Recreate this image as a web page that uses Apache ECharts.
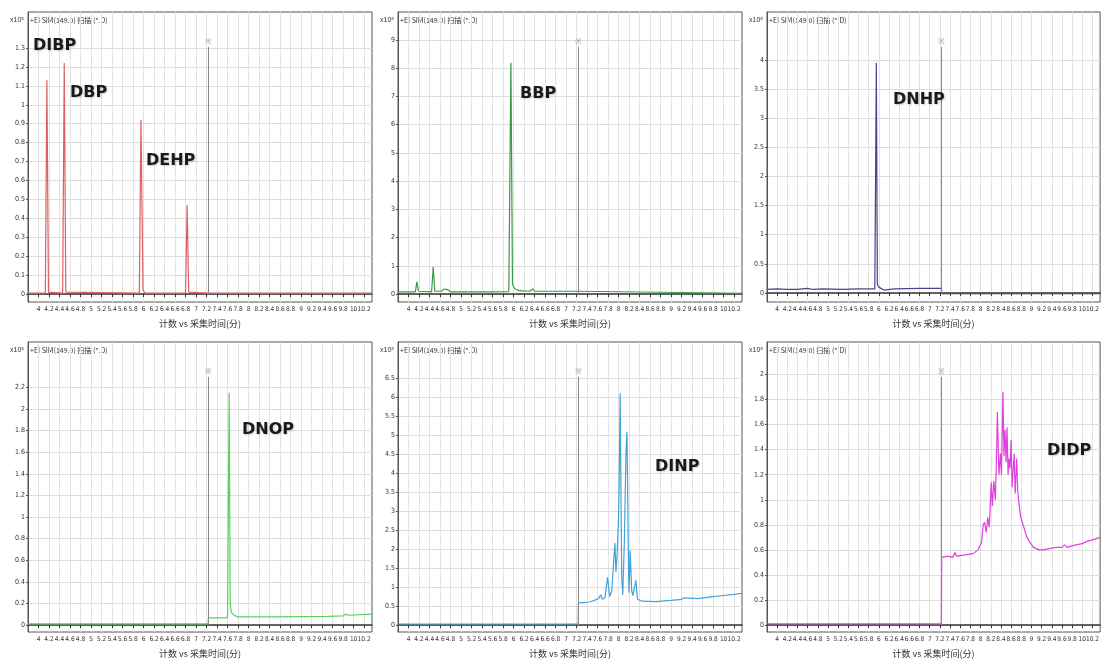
<!DOCTYPE html>
<html><head><meta charset="utf-8">
<script src="https://cdn.jsdelivr.net/npm/echarts@6/dist/echarts.min.js"></script>
<style>html,body{margin:0;padding:0;background:#fff}#c{width:1102px;height:664px}</style>
</head><body><div id="c"></div>
<script>
// ---- data ----
const compoundNames = ['DIBP / DBP / DEHP', 'BBP', 'DNHP', 'DNOP', 'DINP', 'DIDP'];
const headerText = '+EI SIM(149.0) 扫描 (*.D)';
const scaleText = 'x10⁵';
const xTitle = '计数 vs 采集时间(分)';
const segmentTime = 7.23;
const timeTicks = [4,4.2,4.4,4.6,4.8,5,5.2,5.4,5.6,5.8,6,6.2,6.4,6.6,6.8,7,7.2,7.4,7.6,7.8,8,8.2,8.4,8.6,8.8,9,9.2,9.4,9.6,9.8,10,10.2];

const yTicks1 = [0,0.1,0.2,0.3,0.4,0.5,0.6,0.7,0.8,0.9,1,1.1,1.2,1.3];
const yTicks2 = [0,1,2,3,4,5,6,7,8,9];
const yTicks3 = [0,0.5,1,1.5,2,2.5,3,3.5,4];
const yTicks4 = [0,0.2,0.4,0.6,0.8,1,1.2,1.4,1.6,1.8,2,2.2];
const yTicks5 = [0,0.5,1,1.5,2,2.5,3,3.5,4,4.5,5,5.5,6,6.5];
const yTicks6 = [0,0.2,0.4,0.6,0.8,1,1.2,1.4,1.6,1.8,2];

const trace1 = [[3.8,0.005],[4.13,0.005],[4.16,1.13],[4.19,0.01],[4.46,0.005],[4.49,1.22],[4.52,0.01],[5.92,0.005],[5.95,0.92],[5.99,0.02],[6.03,0.005],[6.80,0.005],[6.83,0.47],[6.86,0.01],[7.23,0.005],[10.35,0.005]];
const trace2 = [[3.8,0.08],[4.13,0.08],[4.16,0.43],[4.19,0.1],[4.44,0.08],[4.47,0.96],[4.50,0.1],[4.62,0.1],[4.68,0.18],[4.71,0.12],[4.74,0.16],[4.8,0.08],[5.5,0.08],[5.91,0.09],[5.95,8.19],[5.98,0.35],[6.02,0.2],[6.1,0.12],[6.3,0.1],[6.37,0.18],[6.40,0.1],[7.23,0.1],[7.235,0.03],[10.35,0.03]];
const trace3 = [[3.8,0.06],[4.0,0.07],[4.2,0.06],[4.4,0.06],[4.6,0.08],[4.7,0.06],[4.9,0.07],[5.3,0.06],[5.6,0.07],[5.92,0.07],[5.95,3.95],[5.97,0.15],[6.0,0.1],[6.1,0.05],[6.3,0.07],[6.8,0.08],[7.23,0.08],[7.235,-0.01],[10.35,-0.01]];
const trace4 = [[3.8,0.01],[7.23,0.01],[7.235,0.065],[7.55,0.065],[7.60,0.07],[7.63,2.15],[7.65,0.2],[7.67,0.12],[7.72,0.09],[7.8,0.075],[8.5,0.075],[9.0,0.078],[9.5,0.08],[9.8,0.085],[9.85,0.1],[9.9,0.09],[10.35,0.1]];
const trace5 = [[3.8,0.03],[7.23,0.03],[7.235,0.58],[7.35,0.6],[7.45,0.61],[7.55,0.66],[7.62,0.7],[7.66,0.8],[7.69,0.68],[7.74,0.72],[7.79,1.26],[7.83,0.75],[7.87,0.9],[7.93,2.16],[7.95,1.4],[7.97,1.8],[8.00,2.84],[8.015,4.1],[8.03,6.1],[8.06,1.2],[8.08,0.8],[8.11,2.2],[8.14,4.5],[8.16,5.08],[8.19,1.4],[8.20,0.85],[8.22,1.97],[8.25,0.9],[8.27,0.78],[8.33,1.18],[8.36,0.68],[8.45,0.63],[8.7,0.62],[9.0,0.65],[9.2,0.68],[9.25,0.72],[9.28,0.68],[9.5,0.7],[9.8,0.75],[10.0,0.78],[10.2,0.81],[10.35,0.84]];
const trace6 = [[3.8,0.01],[7.23,0.01],[7.235,0.54],[7.35,0.55],[7.45,0.54],[7.5,0.58],[7.52,0.55],[7.7,0.56],[7.85,0.57],[7.95,0.6],[8.02,0.66],[8.05,0.8],[8.08,0.82],[8.11,0.74],[8.14,0.86],[8.17,0.78],[8.21,1.14],[8.23,0.95],[8.26,1.15],[8.29,1.0],[8.31,1.3],[8.33,1.7],[8.36,1.2],[8.39,1.37],[8.41,1.2],[8.44,1.86],[8.46,1.35],[8.48,1.56],[8.50,1.3],[8.52,1.58],[8.54,1.2],[8.56,1.33],[8.58,1.25],[8.60,1.48],[8.62,1.1],[8.66,1.37],[8.68,1.05],[8.71,1.33],[8.73,1.07],[8.76,0.95],[8.79,0.86],[8.85,0.78],[8.91,0.7],[8.97,0.66],[9.04,0.62],[9.15,0.6],[9.23,0.6],[9.35,0.61],[9.48,0.62],[9.6,0.62],[9.65,0.64],[9.7,0.62],[9.87,0.64],[10.0,0.65],[10.1,0.67],[10.2,0.68],[10.35,0.7]];

// ---- layout / style ----
const panels = [
  {trace: trace1, ticks: yTicks1, min: -0.042, max: 1.49, color: '#dd6060', left: 28, top: 12},
  {trace: trace2, ticks: yTicks2, min: -0.28, max: 9.99, color: '#3a9a45', left: 398, top: 12},
  {trace: trace3, ticks: yTicks3, min: -0.155, max: 4.82, color: '#45458f', left: 767, top: 12},
  {trace: trace4, ticks: yTicks4, min: -0.065, max: 2.62, color: '#5ad05a', left: 28, top: 342},
  {trace: trace5, ticks: yTicks5, min: -0.18, max: 7.45, color: '#3fa3dc', left: 398, top: 342},
  {trace: trace6, ticks: yTicks6, min: -0.056, max: 2.26, color: '#e040e0', left: 767, top: 342}
];
const peakLabels = [
  {t: 'DIBP', x: 33, y: 47}, {t: 'DBP', x: 70, y: 94}, {t: 'DEHP', x: 146, y: 162},
  {t: 'BBP', x: 520, y: 95}, {t: 'DNHP', x: 893, y: 101},
  {t: 'DNOP', x: 242, y: 431}, {t: 'DINP', x: 655, y: 468}, {t: 'DIDP', x: 1047, y: 452}
];
const W = 344, H = 290;
const fmt = v => String(+(+v).toFixed(1));
const tickFont = {fontFamily: 'Liberation Sans Narrow, DejaVu Sans Condensed, sans-serif', fontSize: 7, color: '#333'};

const grid = [], xAxis = [], yAxis = [], series = [], graphic = [];
panels.forEach((p, i) => {
  grid.push({left: p.left, top: p.top, width: W, height: H, show: true, borderColor: '#555', borderWidth: 1, backgroundColor: '#fff'});
  xAxis.push({
    type: 'value', gridIndex: i, min: 3.8, max: 10.35,
    name: xTitle, nameLocation: 'middle', nameGap: 17,
    nameTextStyle: {fontSize: 9, color: '#333', fontFamily: 'Noto Sans CJK SC, sans-serif'},
    axisLine: {show: true, lineStyle: {color: '#333', width: 1.5}},
    axisTick: {show: true, length: 3, customValues: timeTicks, lineStyle: {color: '#333'}},
    axisLabel: Object.assign({customValues: timeTicks, formatter: fmt, margin: 4, hideOverlap: false, showMaxLabel: true, showMinLabel: true}, tickFont, {fontSize: 6.5}),
    splitLine: {show: true, lineStyle: {color: '#e2e2e2', width: 1}}
  });
  yAxis.push({
    type: 'value', gridIndex: i, min: p.min, max: p.max,
    axisLine: {show: true, lineStyle: {color: '#555'}},
    axisTick: {show: true, length: 2, customValues: p.ticks, lineStyle: {color: '#555'}},
    axisLabel: Object.assign({customValues: p.ticks, formatter: fmt, margin: 3}, tickFont),
    splitLine: {show: true, lineStyle: {color: '#dcdcdc', width: 1}}
  });
  const markTop = p.max - (p.max - p.min) * 0.12;
  series.push({
    type: 'line', xAxisIndex: i, yAxisIndex: i, data: p.trace, showSymbol: false, symbol: 'none',
    lineStyle: {color: p.color, width: 1.2}, animation: false, z: 3,
    markLine: {
      silent: true, symbol: 'none', animation: false,
      lineStyle: {color: '#8a8a8a', width: 1, type: 'solid'},
      label: {show: true, position: 'end', formatter: '※', fontSize: 8, color: '#999', distance: 1},
      data: [[{coord: [segmentTime, 0]}, {coord: [segmentTime, markTop]}]]
    }
  });
  graphic.push({type: 'text', left: p.left - 18, top: p.top + 5, style: {text: scaleText, fontSize: 7, fill: '#333', fontFamily: 'sans-serif'}});
  graphic.push({type: 'text', left: p.left + 2, top: p.top + 5, style: {text: headerText, fontSize: 7, fill: '#333', fontFamily: 'Noto Sans CJK SC, sans-serif'}});
});
peakLabels.forEach(l => {
  graphic.push({type: 'text', left: l.x, top: l.y - 9, z: 10,
    style: {text: l.t, fontSize: 16, fontWeight: 'bold', fill: '#1a1a1a', fontFamily: 'DejaVu Sans, sans-serif',
      textShadowColor: 'rgba(0,0,0,0.2)', textShadowBlur: 2, textShadowOffsetX: 1, textShadowOffsetY: 1}});
});

const chart = echarts.init(document.getElementById('c'), null, {renderer: 'canvas'});
chart.setOption({backgroundColor: '#fff', animation: false, grid, xAxis, yAxis, series, graphic});
</script>
</body></html>
